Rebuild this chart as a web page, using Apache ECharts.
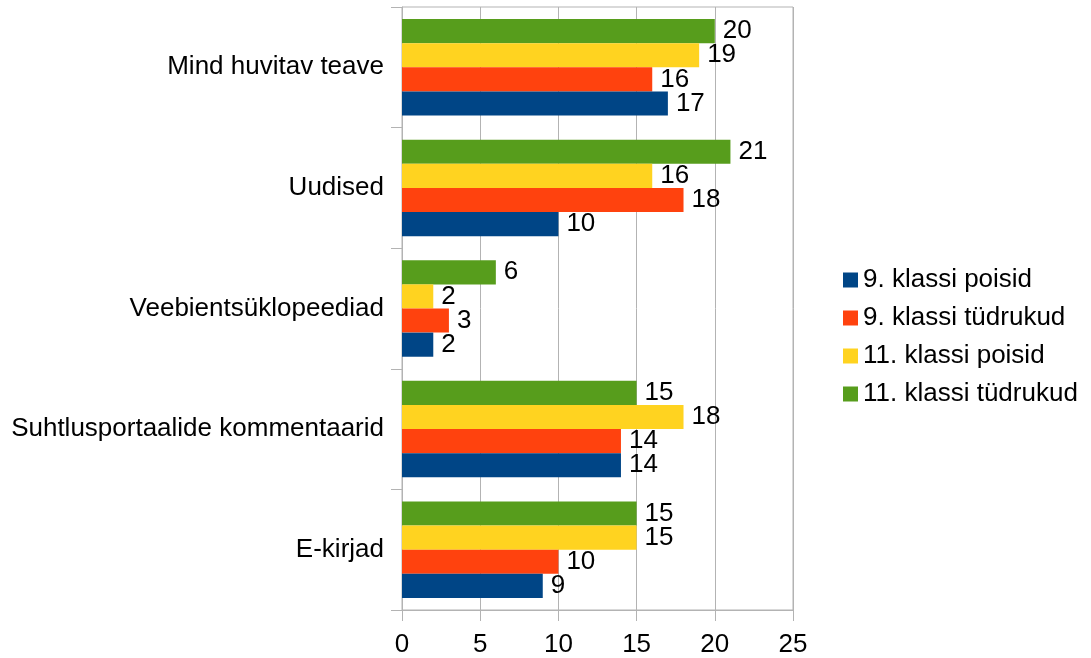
<!DOCTYPE html>
<html>
<head>
<meta charset="utf-8">
<script src="https://cdn.jsdelivr.net/npm/echarts@6/dist/echarts.min.js"></script>
<style>
  html, body { margin: 0; padding: 0; background: #fff; }
  #main { width: 1091px; height: 658px; }
</style>
</head>
<body>
<div id="main"></div>
<script>
// categories listed top to bottom as in the picture
const categories = ['Mind huvitav teave', 'Uudised', 'Veebientsüklopeediad', 'Suhtlusportaalide kommentaarid', 'E-kirjad'];
const poisid9 = [17, 10, 2, 14, 9];
const tydrukud9 = [16, 18, 3, 14, 10];
const poisid11 = [19, 16, 2, 18, 15];
const tydrukud11 = [20, 21, 6, 15, 15];
const xTicks = [0, 5, 10, 15, 20, 25];

const font = 'Liberation Sans';
const gridColor = '#b3b3b3';

const chartDom = document.getElementById('main');
const myChart = echarts.init(chartDom);

function makeSeries(name, data, color) {
  return {
    name: name,
    type: 'bar',
    data: data,
    barGap: '0%',
    barCategoryGap: '20%',
    itemStyle: { color: color },
    label: {
      show: true,
      position: 'right',
      distance: 8,
      color: '#000',
      fontFamily: font,
      fontSize: 26
    }
  };
}

const legendNames = ['9. klassi poisid', '9. klassi tüdrukud', '11. klassi poisid', '11. klassi tüdrukud'];

const option = {
  animation: false,
  textStyle: { fontFamily: font },
  grid: {
    left: 402,
    right: 298,
    top: 7,
    bottom: 48,
    show: true,
    borderColor: gridColor,
    borderWidth: 1
  },
  legend: {
    orient: 'vertical',
    left: 838,
    top: 262,
    data: legendNames,
    icon: 'rect',
    itemWidth: 15,
    itemHeight: 15,
    itemGap: 12,
    textStyle: { fontFamily: font, fontSize: 26, color: '#000', lineHeight: 26, padding: [0, 0, 0, 0] }
  },
  xAxis: {
    type: 'value',
    min: xTicks[0],
    max: xTicks[xTicks.length - 1],
    interval: 5,
    axisLine: { show: true, lineStyle: { color: gridColor } },
    axisTick: { show: true, length: 11, lineStyle: { color: gridColor } },
    splitLine: { show: true, lineStyle: { color: gridColor } },
    axisLabel: { color: '#000', fontFamily: font, fontSize: 26, margin: 22 }
  },
  yAxis: {
    type: 'category',
    data: categories,
    inverse: true,
    axisLine: { show: true, lineStyle: { color: gridColor } },
    axisTick: { show: true, length: 11, lineStyle: { color: gridColor } },
    splitLine: { show: false },
    axisLabel: { color: '#000', fontFamily: font, fontSize: 26, margin: 18 }
  },
  // drawn top to bottom inside each group: green, yellow, red, blue
  series: [
    makeSeries(legendNames[3], tydrukud11, '#579d1c'),
    makeSeries(legendNames[2], poisid11, '#ffd320'),
    makeSeries(legendNames[1], tydrukud9, '#ff420e'),
    makeSeries(legendNames[0], poisid9, '#004586')
  ]
};

myChart.setOption(option);
</script>
</body>
</html>
